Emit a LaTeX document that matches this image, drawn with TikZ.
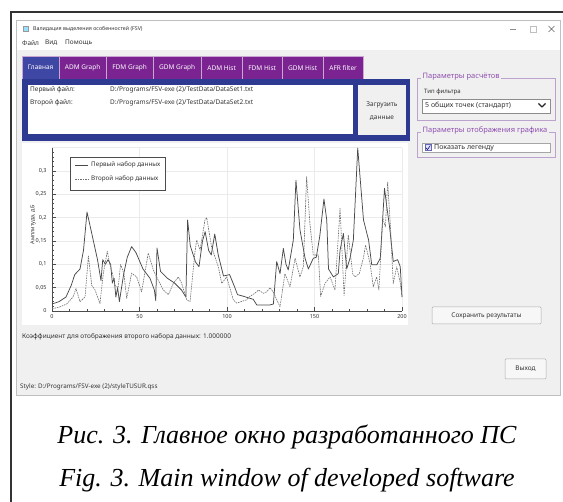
\documentclass[tikz,border=0pt]{standalone}
\usepackage{fontspec}
\setmainfont{Liberation Serif}
\newfontfamily\uifont{Noto Sans}
\definecolor{winbg}{HTML}{F0F0F0}
\definecolor{tabpurple}{HTML}{7A2391}
\definecolor{tabblue}{HTML}{3F47A4}
\definecolor{frameblue}{HTML}{2E3A92}
\definecolor{grpline}{HTML}{BBA3CE}
\definecolor{grptitle}{HTML}{8E4FB0}
\definecolor{btnline}{HTML}{ADADAD}
\definecolor{curveA}{HTML}{4A4A4A}
\definecolor{curveB}{HTML}{6E6E6E}
\begin{document}
\begin{tikzpicture}[x=1pt,y=-1pt,
  ui/.style={font=\uifont\fontsize{6.5}{7}\selectfont, inner sep=0pt, text=black!80},
  uismall/.style={font=\uifont\fontsize{5.5}{6}\selectfont, inner sep=0pt, text=black!80},
  tabbox/.style={font=\uifont\fontsize{6.5}{7}\selectfont, text=white, inner sep=0pt,
                 minimum height=23pt, anchor=north west, draw=white!60!tabpurple, line width=0.3pt},
  grptitlebox/.style={font=\uifont\fontsize{7.5}{8}\selectfont, text=grptitle, fill=winbg,
                 inner xsep=1.5pt, inner ysep=0pt, anchor=west},
  btn/.style={draw=btnline, fill=white!97!black, rounded corners=1pt, line width=0.5pt},
  gridline/.style={draw=black!8, line width=0.4pt},
  caption/.style={font=\itshape\fontsize{26}{30}\selectfont, inner sep=0pt}
]
\useasboundingbox (0,0) rectangle (563,502);
\fill[white] (0,0) rectangle (563,502);

% page frame round the window
\draw[line width=1.4pt, black!80] (11,502) -- (11,12) -- (563,12);

% window body, title bar and menu bar
\fill[winbg] (16,20) rectangle (560,395);
\fill[white] (16,20) rectangle (560,50);
\draw[black!25, line width=0.6pt] (16,20) rectangle (560,395);

\node[draw=black!40, fill=blue!30!cyan!40, minimum size=5pt, inner sep=0pt] (icon) at (26,29) {};
\node[uismall, font=\uifont\fontsize{5.3}{6}\selectfont, anchor=west] (wintitle) at (33,29) {Валидация выделения особенностей (FSV)};
\draw[black!45, line width=0.5pt] (510,29) -- (516,29);
\node[draw=black!25, minimum size=6pt, inner sep=0pt] (maxbox) at (533,29) {};
\draw[black!60, line width=0.6pt] (548.5,26) -- (554.5,32) (548.5,32) -- (554.5,26);

\node[ui, anchor=west] (mfile) at (22,43) {Файл};
\node[ui, anchor=west] (mview) at (45,43) {Вид};
\node[ui, anchor=west] (mhelp) at (65,43) {Помощь};

% tab bar
\node[tabbox, fill=tabblue, minimum width=37pt] (tab1) at (22,56) {Главная};
\node[tabbox, fill=tabpurple, minimum width=47pt] (tab2) at (59,56) {ADM Graph};
\node[tabbox, fill=tabpurple, minimum width=47pt] (tab3) at (106,56) {FDM Graph};
\node[tabbox, fill=tabpurple, minimum width=48pt] (tab4) at (153,56) {GDM Graph};
\node[tabbox, fill=tabpurple, minimum width=41pt] (tab5) at (201,56) {ADM Hist};
\node[tabbox, fill=tabpurple, minimum width=40pt] (tab6) at (242,56) {FDM Hist};
\node[tabbox, fill=tabpurple, minimum width=41pt] (tab7) at (282,56) {GDM Hist};
\node[tabbox, fill=tabpurple, minimum width=40pt] (tab8) at (323,56) {AFR filter};

% file panel
\fill[frameblue] (22,79) rectangle (410,141);
\fill[white] (28,85) rectangle (353,134);
\fill[winbg] (358,85) rectangle (406,135);
\node[ui, anchor=west] (f1lab) at (30,90) {Первый файл:};
\node[ui, anchor=west] (f2lab) at (30,103) {Второй файл:};
\node[ui, anchor=west] (f1path) at (110,90) {D:/Programs/FSV-exe (2)/TestData/DataSet1.txt};
\node[ui, anchor=west] (f2path) at (110,103) {D:/Programs/FSV-exe (2)/TestData/DataSet2.txt};
\node[ui, align=center, font=\uifont\fontsize{6.5}{13}\selectfont] (load) at (382,111) {Загрузить\\данные};

% calculation parameters group
\draw[grpline, line width=0.6pt] (417,78) rectangle (555,120);
\node[grptitlebox] (grp1) at (421,77) {Параметры расчётов};
\node[ui, font=\uifont\fontsize{6}{7}\selectfont, anchor=west] (ftype) at (424,92) {Тип фильтра};
\draw[black!45, fill=white, line width=0.5pt] (422,99) rectangle (550,113);
\node[ui, font=\uifont\fontsize{7}{8}\selectfont, anchor=west] (fsel) at (425,106) {5 общих точек (стандарт)};
\draw[black!85, line width=1.1pt, line join=round] (538.5,103.5) -- (542,107) -- (545.5,103.5);

% plot display group
\draw[grpline, line width=0.6pt] (417,132) rectangle (555,157);
\node[grptitlebox] (grp2) at (421,131) {Параметры отображения графика};
\draw[black!35, fill=white, line width=0.5pt] (422,143) rectangle (550,152.5);
\node[draw=blue!50!black!60, fill=blue!12, minimum size=6pt, inner sep=0pt, line width=0.4pt] (chk) at (428,147.7) {};
\draw[blue!40!black, line width=0.5pt] (425.8,147.8) -- (427.5,149.6) -- (430.3,145.6);
\node[ui, font=\uifont\fontsize{7}{8}\selectfont, anchor=west] (legopt) at (434,147.7) {Показать легенду};

% chart area
\fill[white] (22,143) rectangle (408,325);
\begin{scope}[shift={(52,311)}, x=1.75pt, y=466.7pt]
  \foreach \t in {50,100,150,200} \draw[gridline] (\t,0) -- (\t,0.35);
  \foreach \v in {0.05,0.1,...,0.36} \draw[gridline] (0,\v) -- (200,\v);
  \draw[black!70, line width=0.5pt] (0,0.35) -- (0,0) -- (200,0);
  \foreach \t in {0,10,...,200} \draw[black!70, line width=0.4pt] (\t,0) -- (\t,0.004);
  \foreach \t in {0,50,...,200} \draw[black!70, line width=0.4pt] (\t,0) -- (\t,0.008);
  \foreach \v in {0.01,0.02,...,0.35} \draw[black!70, line width=0.4pt] (0,\v) -- (1.2,\v);
  \foreach \v in {0.05,0.1,...,0.35} \draw[black!70, line width=0.4pt] (0,\v) -- (2.4,\v);
  % first data set
  \draw[curveA, line width=0.75pt, line join=round] plot coordinates {
    (0,0.015) (4,0.02) (8,0.03) (11,0.055) (13,0.078) (16,0.09) (18,0.13) (20,0.212)
    (22.5,0.17) (26,0.11) (28,0.065) (29,0.11) (30.5,0.1) (32,0.11) (33.5,0.1) (34.5,0.06)
    (35.5,0.07) (36.5,0.03) (37.5,0.05) (38.5,0.02) (41,0.08) (43,0.115) (45.5,0.138)
    (48,0.125) (52,0.09) (56,0.07) (58.5,0.045) (59.3,0.022) (60,0.135) (62,0.085)
    (66,0.07) (70,0.06) (74,0.045) (76.5,0.03) (77.5,0.195) (79,0.14) (82,0.105)
    (84,0.095) (86,0.15) (87.5,0.17) (89.5,0.13) (91,0.12) (93,0.165) (95,0.12)
    (98,0.075) (101.5,0.078) (104.5,0.05) (106,0.035) (109,0.032) (115,0.025) (117,0.013)
    (124.5,0.013) (126.5,0.015) (128.4,0.106) (130.3,0.08) (132.2,0.134) (133.7,0.1)
    (135,0.088) (137.9,0.152) (139.4,0.28) (141.7,0.174) (144.6,0.113) (146.5,0.09)
    (149.3,0.113) (151,0.115) (153,0.16) (155.4,0.24) (157,0.195) (158,0.09) (160.8,0.073)
    (163.6,0.08) (164.6,0.13) (166.5,0.166) (168.4,0.09) (170.3,0.113) (172.2,0.152)
    (174.7,0.349) (178,0.195) (180.9,0.152) (182.7,0.099) (185.6,0.099) (187.6,0.113)
    (190,0.263) (191.3,0.224) (193,0.177) (195,0.106) (197.5,0.11) (199,0.095) (200,0.03)};
  % second data set
  \draw[curveB, line width=0.6pt, dash pattern=on 1.6pt off 0.9pt, line join=round] plot coordinates {
    (0,0.005) (4,0.008) (8.4,0.015) (12,0.03) (13.7,0.048) (16,0.02) (18.9,0.03) (20.8,0.118)
    (22.7,0.055) (24.6,0.045) (27.4,0.016) (29.3,0.08) (31.6,0.128) (33,0.1) (34.6,0.08)
    (36,0.055) (37.8,0.05) (39.2,0.1) (41.1,0.08) (42.7,0.027) (45.5,0.081) (48.4,0.073)
    (51.2,0.041) (55,0.124) (57.9,0.088) (60.7,0.066) (63.6,0.045) (66.5,0.035) (69.3,0.059)
    (72.2,0.073) (74,0.06) (77,0.024) (78.9,0.02) (81.7,0.127) (82.7,0.152) (84.6,0.13)
    (87.4,0.195) (88.4,0.2) (91.2,0.137) (95,0.095) (97,0.059) (99.8,0.073) (103.6,0.024)
    (105.5,0.017) (111.2,0.024) (113,0.031) (115.9,0.038) (118,0.045) (120.8,0.038)
    (122.7,0.041) (124.6,0.05) (126.5,0.04) (130.3,0.009) (133.1,0.08) (136,0.052)
    (138.9,0.113) (141.7,0.073) (143.6,0.095) (145.5,0.288) (147.4,0.186) (149.3,0.12)
    (152.2,0.12) (153.5,0.031) (156,0.059) (158.9,0.073) (161.7,0.045) (164.6,0.22)
    (166.9,0.033) (169.3,0.163) (171.8,0.08) (173.1,0.073) (175.6,0.08) (177.9,0.113)
    (179.2,0.141) (181.7,0.103) (183.6,0.052) (185.5,0.073) (186.8,0.045) (189,0.199)
    (190.5,0.18) (191.8,0.277) (193.5,0.174) (195,0.059) (197,0.095) (199,0.06) (200,0.031)};
  % tick labels
  \foreach \t in {0,50,100,150,200}
    \node[uismall, anchor=north] (xl\t) at (\t,-0.008) {\t};
  \foreach \v/\s in {0/0,0.05/{0,05},0.1/{0,1},0.15/{0,15},0.2/{0,2},0.25/{0,25},0.3/{0,3}}
    \node[uismall, anchor=east] at (-3,\v) {\s};
\end{scope}
\node[uismall, rotate=90] (ytitle) at (33,225) {Амплитуда, дБ};

% legend
\draw[black!70, fill=white, line width=0.5pt] (70,157) rectangle (165,190);
\draw[curveA, line width=0.75pt] (75,165) -- (88,165);
\node[ui, font=\uifont\fontsize{6.3}{7}\selectfont, anchor=west] (leg1) at (91,165) {Первый набор данных};
\draw[curveB, line width=0.6pt, dash pattern=on 1.6pt off 0.9pt] (75,179) -- (88,179);
\node[ui, font=\uifont\fontsize{6.3}{7}\selectfont, anchor=west] (leg2) at (91,179) {Второй набор данных};

% buttons and status texts
\draw[btn] (432,307) rectangle (541,324);
\node[ui] (save) at (486.5,315.5) {Сохранить результаты};
\node[ui, anchor=west] (coef) at (22,337) {Коэффициент для отображения второго набора данных: 1.000000};
\draw[btn] (505,359) rectangle (546,379);
\node[ui] (exit) at (525.5,369) {Выход};
\node[ui, font=\uifont\fontsize{6.3}{7}\selectfont, anchor=west] (style) at (20,387) {Style: D:/Programs/FSV-exe (2)/styleTUSUR.qss};

% captions
\node[caption] (capru) at (287,437) {Рис. 3. Главное окно разработанного ПС};
\node[caption] (capen) at (287,480) {Fig. 3. Main window of developed software};
\end{tikzpicture}
\end{document}
